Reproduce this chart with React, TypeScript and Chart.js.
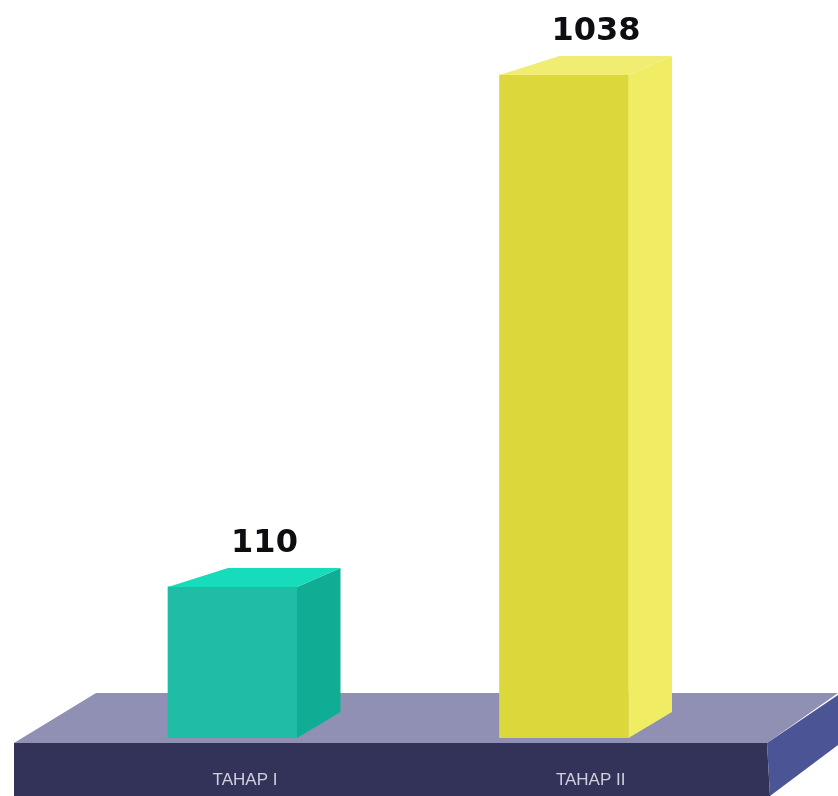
import React, { useEffect, useRef } from "react";
import { Chart, registerables } from "chart.js";

Chart.register(...registerables);

// Figures per stage
const stages = ["TAHAP I", "TAHAP II"];
const totals = [110, 1038];

// Face colours of each block: front, side, top
const frontColours = ["#1fbda5", "#dcd83c"];
const sideColours = ["#0fae94", "#f0ec63"];
const topColours = ["#17dcbc", "#f1ec72"];

// Leading no-break spaces that nudge each stage name along the plinth
const labelIndent = [0, 6];

// Perspective of the blocks, in pixels
const REAR_LEFT = 60;
const REAR_RIGHT = 43.5;
const RISE_TOP = 19;
const RISE_BOTTOM = 26;

// Draws the plinth the blocks are standing on
const plinth = {
  id: "plinth",
  beforeDraw(chart: any) {
    const { ctx, chartArea } = chart;
    const b = chartArea.bottom;
    const poly = (colour: string, pts: number[][]) => {
      ctx.fillStyle = colour;
      ctx.beginPath();
      pts.forEach(([x, y], i) => (i ? ctx.lineTo(x, y) : ctx.moveTo(x, y)));
      ctx.closePath();
      ctx.fill();
    };
    ctx.save();
    poly("#8f90b3", [[14, b + 5], [96, b - 45], [838, b - 45], [767, b + 5]]);
    poly("#333258", [[14, b + 5], [767, b + 5], [770, 796], [14, 796]]);
    poly("#4b5595", [[767, b + 5], [838, b - 43], [838, b + 7], [770, 796]]);
    ctx.restore();
  },
};

// Adds the side and top faces to each bar and writes its value above
const blocks = {
  id: "blocks",
  afterDatasetsDraw(chart: any) {
    const { ctx } = chart;
    chart.getDatasetMeta(0).data.forEach((bar: any, i: number) => {
      const half = bar.width / 2;
      const l = bar.x - half;
      const r = bar.x + half;
      const t = bar.y;
      const b = bar.base;
      ctx.save();
      ctx.fillStyle = sideColours[i];
      ctx.beginPath();
      ctx.moveTo(r, t);
      ctx.lineTo(r + REAR_RIGHT, t - RISE_TOP);
      ctx.lineTo(r + REAR_RIGHT, b - RISE_BOTTOM);
      ctx.lineTo(r, b);
      ctx.closePath();
      ctx.fill();
      ctx.fillStyle = topColours[i];
      ctx.beginPath();
      ctx.moveTo(l, t);
      ctx.lineTo(l + REAR_LEFT, t - RISE_TOP);
      ctx.lineTo(r + REAR_RIGHT, t - RISE_TOP);
      ctx.lineTo(r, t);
      ctx.closePath();
      ctx.fill();
      ctx.fillStyle = "#0d0d12";
      ctx.font = 'bold 32px "DejaVu Sans"';
      ctx.textAlign = "center";
      ctx.textBaseline = "alphabetic";
      ctx.fillText(String(totals[i]), bar.x + 32, t - 35);
      ctx.restore();
    });
  },
};

export default function App() {
  const canvasRef = useRef<HTMLCanvasElement | null>(null);

  useEffect(() => {
    document.body.style.margin = "0";
    const chart = new Chart(canvasRef.current as HTMLCanvasElement, {
      type: "bar",
      data: {
        labels: stages,
        datasets: [
          {
            data: totals,
            backgroundColor: frontColours,
            barThickness: 129,
          },
        ],
      },
      options: {
        responsive: false,
        animation: false,
        layout: { padding: { left: 66.75, right: 108.25, top: 0, bottom: 0 } },
        plugins: { legend: { display: false }, tooltip: { enabled: false } },
        scales: {
          x: {
            grid: { display: false },
            border: { display: false },
            afterFit(scale: any) {
              scale.height = 58;
            },
            ticks: {
              color: "#cfd0de",
              font: { family: '"Liberation Sans"', size: 17 },
              padding: 24,
              labelOffset: 12.5,
              maxRotation: 0,
              callback: (_v: any, i: number) =>
                "\u00A0".repeat(labelIndent[i]) + stages[i],
            },
          },
          y: {
            type: "logarithmic",
            display: false,
            min: 56.7,
            max: 1443,
          },
        },
      },
      plugins: [plinth, blocks],
    } as any);
    return () => chart.destroy();
  }, []);

  return (
    <canvas
      ref={canvasRef}
      width={838}
      height={796}
      style={{ display: "block", width: 838, height: 796 }}
    />
  );
}
